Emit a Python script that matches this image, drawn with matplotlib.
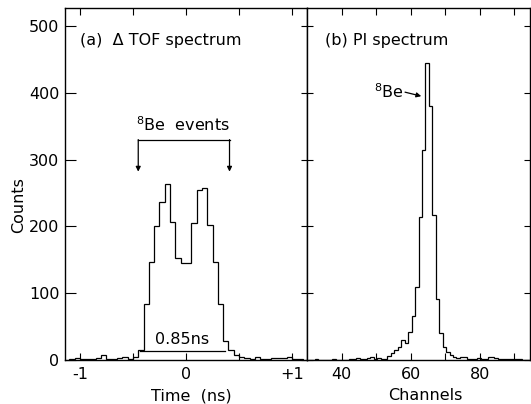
import numpy as np
import matplotlib
matplotlib.use("Agg")
import matplotlib.pyplot as plt

plt.rcParams.update({'font.size': 11.5, 'font.family': 'DejaVu Sans',
                     'axes.unicode_minus': False, 'axes.linewidth': 1.0})

# ---- (a) delta TOF spectrum, 0.05 ns bins starting at -1.10 ns
tof_first_edge = -1.10
tof_bin_width = 0.05
tof_counts = [2, 3, 2, 2, 2, 3, 7, 2, 1, 3, 5, 2, 4,            # -1.10 .. -0.50
              15, 84, 147, 200, 236, 264, 207, 152, 145, 145,   # -0.45 .. 0.00
              205, 255, 258, 202, 146, 84, 29, 15,              #  0.05 .. 0.40
              7, 4, 3, 2, 5, 2, 2, 3, 3, 3, 5, 2, 1]            #  0.45 .. 1.05
tof_ticks = [-1, 0, 1]
tof_ticklabels = ["-1", "0", "+1"]

# ---- (b) PI spectrum, 1-channel bins starting at channel 30.2
pi_first_edge = 30.2
pi_bin_width = 1.0
pi_counts = [0, 0, 1, 0, 0, 0, 0, 1, 0, 0, 0, 0, 1,              # 30 .. 42
             2, 3, 2, 1, 3, 4, 2, 3, 1, 2,                       # 43 .. 52
             6, 10, 15, 20, 30, 26, 42, 66, 110, 214,            # 53 .. 62
             314, 445, 380, 217, 92, 40, 20, 12, 8, 5,           # 63 .. 72
             3, 5, 4, 2, 1, 2, 3, 2, 2, 4, 5, 3, 1, 1,           # 73 .. 86
             2, 2, 1, 2, 1, 0, 0, 0]                             # 87 .. 94
pi_ticks = [40, 60, 80]

count_ticks = [0, 100, 200, 300, 400, 500]

tof_edges = tof_first_edge + tof_bin_width * np.arange(len(tof_counts) + 1)
pi_edges = pi_first_edge + pi_bin_width * np.arange(len(pi_counts) + 1)

fig = plt.figure(figsize=(5.31, 4.04), dpi=100)
ax1 = fig.add_axes([65/531, 44/404, 242/531, 352/404])
ax2 = fig.add_axes([307/531, 44/404, 223/531, 352/404])

for ax in (ax1, ax2):
    ax.set_ylim(0, 527)
    ax.set_yticks(count_ticks)

# panel a
ax1.stairs(tof_counts, tof_edges, color="black", lw=0.9)
ax1.set_xlim(-1.14, 1.14)
ax1.set_xticks(tof_ticks)
ax1.set_xticklabels(tof_ticklabels)
ax1.set_xticks([-0.5, 0.5], minor=True)
ax1.tick_params(axis="x", which="both", direction="in", top=True, bottom=True,
                length=5, width=0.8, pad=5)
ax1.tick_params(axis="y", direction="in", left=True, right=False,
                length=8, width=0.8, pad=4)
ax1.set_xlabel("Time  (ns)", va="center")
ax1.xaxis.set_label_coords(0.52, -0.102)

ax1.text(-1.0, 479, "(a)  Δ TOF spectrum", ha="left", va="center")
ax1.text(-0.03, 343, r"$^{8}$Be  events", ha="center", va="baseline")
ax1.plot([-0.45, 0.41], [329, 329], color="black", lw=0.9)
for xa in (-0.45, 0.41):
    ax1.annotate("", xy=(xa, 282), xytext=(xa, 330),
                 arrowprops=dict(arrowstyle="-|>", color="black", lw=0.9,
                                 mutation_scale=7, shrinkA=0, shrinkB=0))
ax1.text(-0.04, 30, "0.85ns", ha="center", va="center")
ax1.plot([-0.43, 0.37], [13, 13], color="black", lw=0.9)

# panel b
ax2.stairs(pi_counts, pi_edges, color="black", lw=0.9)
ax2.set_xlim(29.9, 94.5)
ax2.set_xticks(pi_ticks)
ax2.set_xticks([50, 70, 90], minor=True)
ax2.tick_params(axis="x", which="both", direction="in", top=True, bottom=True,
                length=5, width=0.8, pad=5)
ax2.tick_params(axis="y", direction="inout", left=True, right=True,
                labelleft=False, length=8, width=0.8)
ax2.set_xlabel("Channels", va="center")
ax2.xaxis.set_label_coords(0.529, -0.102)

ax2.text(35.2, 479, "(b) PI spectrum", ha="left", va="center")
ax2.text(49.3, 393, r"$^{8}$Be", ha="left", va="baseline")
ax2.annotate("", xy=(63.0, 395), xytext=(58.3, 401),
             arrowprops=dict(arrowstyle="-|>", color="black", lw=0.9,
                             mutation_scale=7, shrinkA=0, shrinkB=0))

fig.text(19/531, 1 - 205/404, "Counts", rotation=90, ha="center", va="center")

fig.savefig("out.png", dpi=100)
